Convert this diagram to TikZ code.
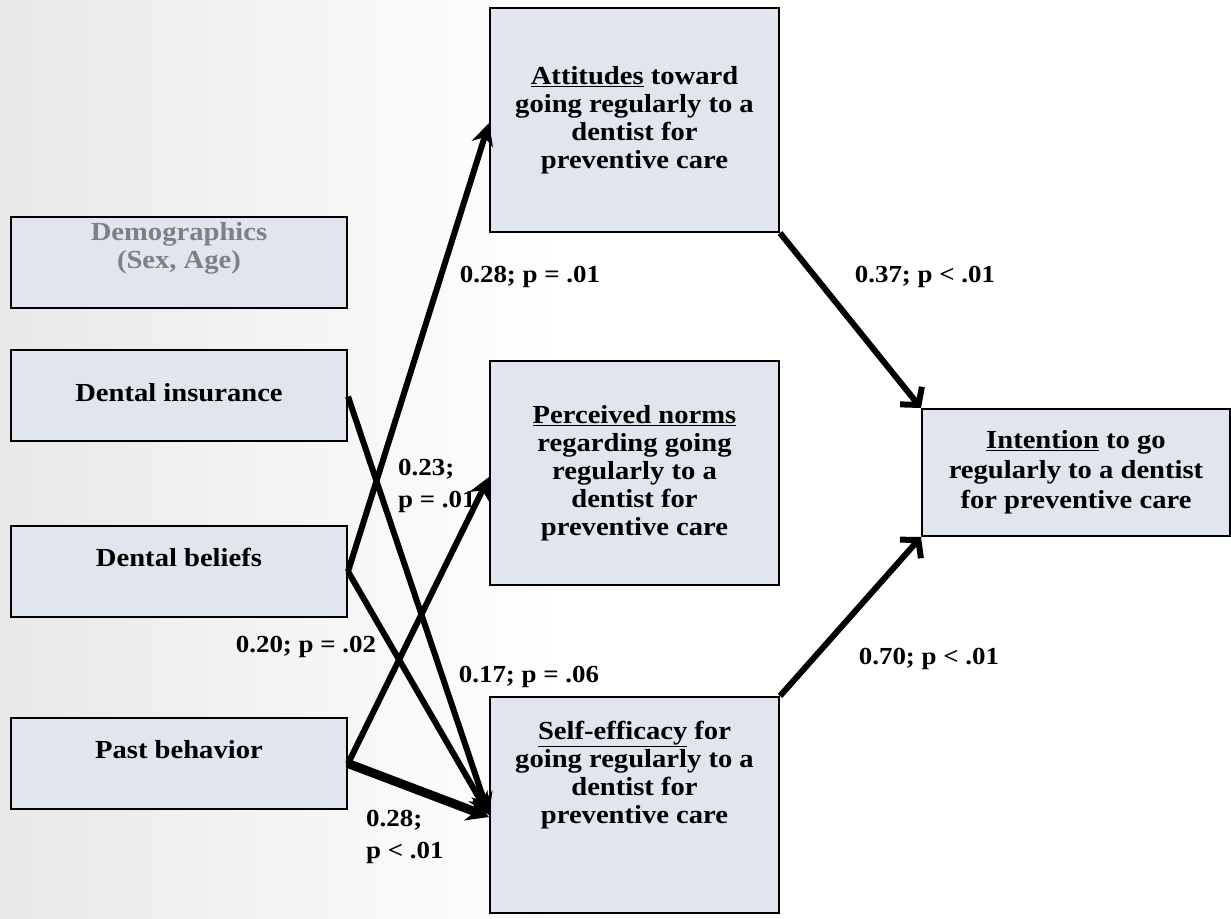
\documentclass[tikz,border=0pt]{standalone}
\usepackage{fontspec}
\setmainfont{Liberation Serif}[FakeStretch=1.1]
\usetikzlibrary{arrows.meta,calc}
\definecolor{boxfill}{RGB}{224,229,238}
\definecolor{demogray}{RGB}{128,128,128}
\begin{document}
\begin{tikzpicture}[x=1pt,y=-1pt,
  box/.style={draw=black,line width=2pt,fill=boxfill,inner sep=0pt,align=center,
    font=\bfseries\fontsize{26}{28}\selectfont},
  lbl/.style={font=\bfseries\fontsize{24.5}{32}\selectfont,inner sep=0pt,align=left},
  arr/.style={line width=6pt,-{Stealth[length=22pt,width=22pt]}},
  barb/.style={line width=6pt,-{Straight Barb[length=12pt,width=28pt]}}]
\useasboundingbox (0,0) rectangle (1231,918);
\fill[white] (0,0) rectangle (1231,918);
\shade[left color=black!9,right color=white] (0,0) rectangle (560,918);

% boxes
\node[box,minimum width=336pt,minimum height=91pt,text=demogray,text depth=34pt] (demo) at (179,262.5) {Demographics\\(Sex, Age)};
\node[box,minimum width=336pt,minimum height=91pt,text height=18pt,text depth=6pt] (ins) at (179,395.5) {Dental insurance};
\node[box,minimum width=336pt,minimum height=91pt,text height=18pt,text depth=28pt] (bel) at (179,571.5) {Dental beliefs};
\node[box,minimum width=336pt,minimum height=91pt,text height=18pt,text depth=28pt] (past) at (179,763.5) {Past behavior};

\node[box,minimum width=289pt,minimum height=224pt] (att) at (634.5,120) {\underline{Attitudes} toward\\going regularly to a\\dentist for\\preventive care};
\node[box,minimum width=289pt,minimum height=224pt] (norm) at (634.5,473) {\underline{Perceived norms}\\regarding going\\regularly to a\\dentist for\\preventive care};
\node[box,minimum width=289pt,minimum height=216pt,text depth=66pt] (self) at (634.5,805) {\underline{Self-efficacy} for\\going regularly to a\\dentist for\\preventive care};
\node[box,minimum width=308pt,minimum height=127pt,font=\bfseries\fontsize{26}{30}\selectfont] (int) at (1076,472.5) {\underline{Intention} to go\\regularly to a dentist\\for preventive care};

% connectors
\draw[arr] (bel.east) -- ([yshift=-3pt]att.west);
\draw[arr] (bel.east) -- ([yshift=-10pt]self.west);
\draw[arr] ([yshift=-1pt]ins.east) -- ([yshift=-10pt]self.west);
\draw[arr] (past.east) -- ([yshift=-4pt]norm.west);
\draw[line width=9pt,-{Stealth[length=22pt,width=24pt]}] (past.east) -- ([yshift=-12pt]self.west);
\draw[barb] (att.south east) -- (int.north west);
\draw[barb] (self.north east) -- (int.south west);

% labels
\node[lbl] (l1) at (530,277) {0.28; p = .01};
\node[lbl] (l2) at (925,277) {0.37; p < .01};
\node[lbl,anchor=west] (l3) at (398,486) {0.23;\\p = .01};
\node[lbl] (l4) at (306,647) {0.20; p = .02};
\node[lbl] (l5) at (529,677) {0.17; p = .06};
\node[lbl] (l6) at (929,659) {0.70; p < .01};
\node[lbl,anchor=west] (l7) at (366,837) {0.28;\\p < .01};
\end{tikzpicture}
\end{document}
